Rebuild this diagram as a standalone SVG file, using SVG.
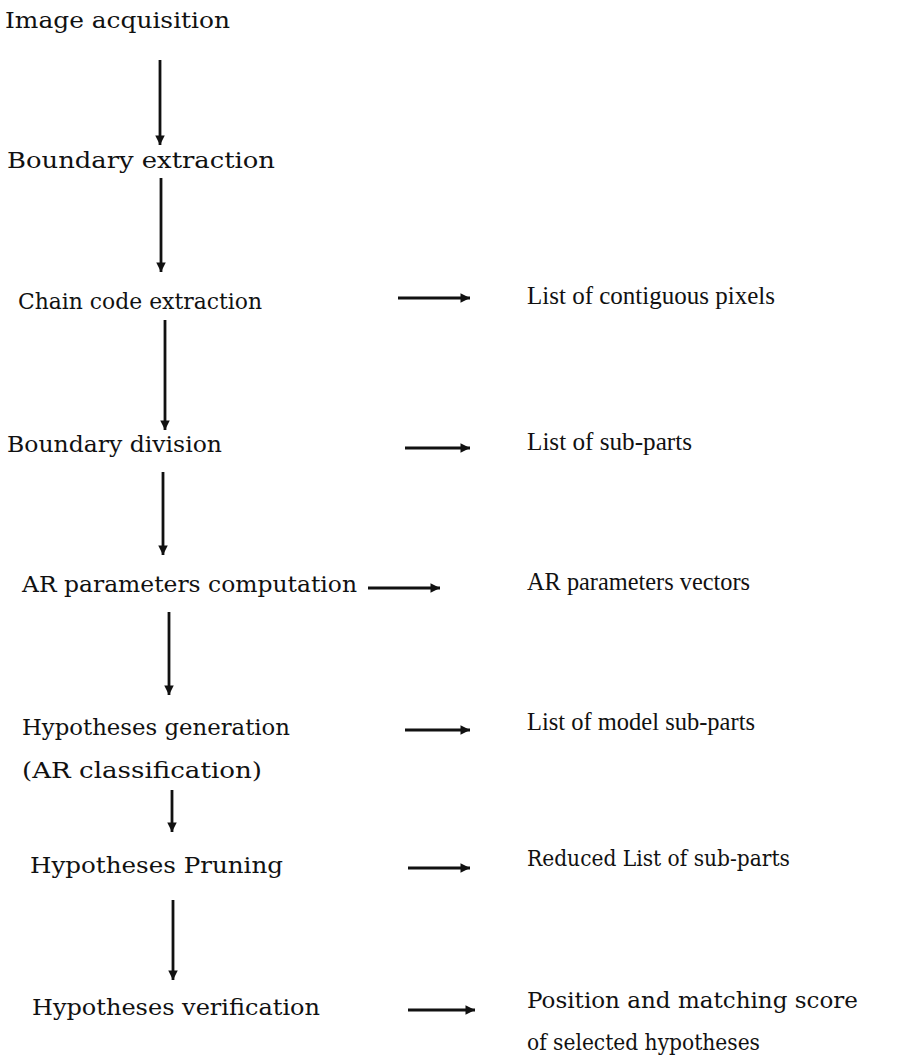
<svg xmlns="http://www.w3.org/2000/svg" width="916" height="1064" viewBox="0 0 916 1064">
<style>
text{font-family:"DejaVu Serif","Liberation Serif",serif;font-size:22px;fill:#111}
text.t{font-family:"Liberation Serif","Times New Roman",serif;font-size:25px}
.c line{stroke:#111;stroke-width:2.8}
</style>
<defs>
<marker id="ah" viewBox="0 0 10 10" refX="10" refY="5" markerWidth="4.4" markerHeight="3.4" orient="auto" markerUnits="strokeWidth">
<path d="M0,0 L10,5 L0,10 Z" fill="#111"/>
</marker>
</defs>
<rect width="916" height="1064" fill="#fff"/>
<g id="n1"><text x="5" y="28" textLength="225" lengthAdjust="spacingAndGlyphs">Image acquisition</text></g>
<g id="n2"><text x="7" y="168" textLength="268" lengthAdjust="spacingAndGlyphs">Boundary extraction</text></g>
<g id="n3"><text x="18" y="309" textLength="244" lengthAdjust="spacingAndGlyphs">Chain code extraction</text></g>
<g id="n3o"><text class="t" x="527" y="304" textLength="248" lengthAdjust="spacingAndGlyphs">List of contiguous pixels</text></g>
<g id="n4"><text x="7" y="452" textLength="215" lengthAdjust="spacingAndGlyphs">Boundary division</text></g>
<g id="n4o"><text class="t" x="527" y="450" textLength="165" lengthAdjust="spacingAndGlyphs">List of sub-parts</text></g>
<g id="n5"><text x="22" y="592" textLength="335" lengthAdjust="spacingAndGlyphs">AR parameters computation</text></g>
<g id="n5o"><text class="t" x="527" y="590" textLength="223" lengthAdjust="spacingAndGlyphs">AR parameters vectors</text></g>
<g id="n6"><text x="22" y="735" textLength="268" lengthAdjust="spacingAndGlyphs">Hypotheses generation</text><text x="22" y="778" textLength="240" lengthAdjust="spacingAndGlyphs">(AR classification)</text></g>
<g id="n6o"><text class="t" x="527" y="730" textLength="228" lengthAdjust="spacingAndGlyphs">List of model sub-parts</text></g>
<g id="n7"><text x="30" y="873" textLength="253" lengthAdjust="spacingAndGlyphs">Hypotheses Pruning</text></g>
<g id="n7o"><text x="527" y="866" textLength="263" lengthAdjust="spacingAndGlyphs">Reduced List of sub-parts</text></g>
<g id="n8"><text x="32" y="1015" textLength="288" lengthAdjust="spacingAndGlyphs">Hypotheses verification</text></g>
<g id="n8o"><text x="527" y="1008" textLength="331" lengthAdjust="spacingAndGlyphs">Position and matching score</text><text x="527" y="1050" textLength="233" lengthAdjust="spacingAndGlyphs">of selected hypotheses</text></g>
<g id="connectors" class="c">
<line x1="160" y1="60" x2="160" y2="145" marker-end="url(#ah)"/>
<line x1="161" y1="178" x2="161" y2="272" marker-end="url(#ah)"/>
<line x1="165" y1="320" x2="165" y2="430" marker-end="url(#ah)"/>
<line x1="163" y1="472" x2="163" y2="555" marker-end="url(#ah)"/>
<line x1="169" y1="612" x2="169" y2="695" marker-end="url(#ah)"/>
<line x1="172" y1="790" x2="172" y2="832" marker-end="url(#ah)"/>
<line x1="173" y1="900" x2="173" y2="980" marker-end="url(#ah)"/>
<line x1="398" y1="298" x2="470" y2="298" marker-end="url(#ah)"/>
<line x1="405" y1="448" x2="470" y2="448" marker-end="url(#ah)"/>
<line x1="368" y1="588" x2="440" y2="588" marker-end="url(#ah)"/>
<line x1="405" y1="730" x2="470" y2="730" marker-end="url(#ah)"/>
<line x1="408" y1="868" x2="470" y2="868" marker-end="url(#ah)"/>
<line x1="408" y1="1010" x2="475" y2="1010" marker-end="url(#ah)"/>
</g>
</svg>
